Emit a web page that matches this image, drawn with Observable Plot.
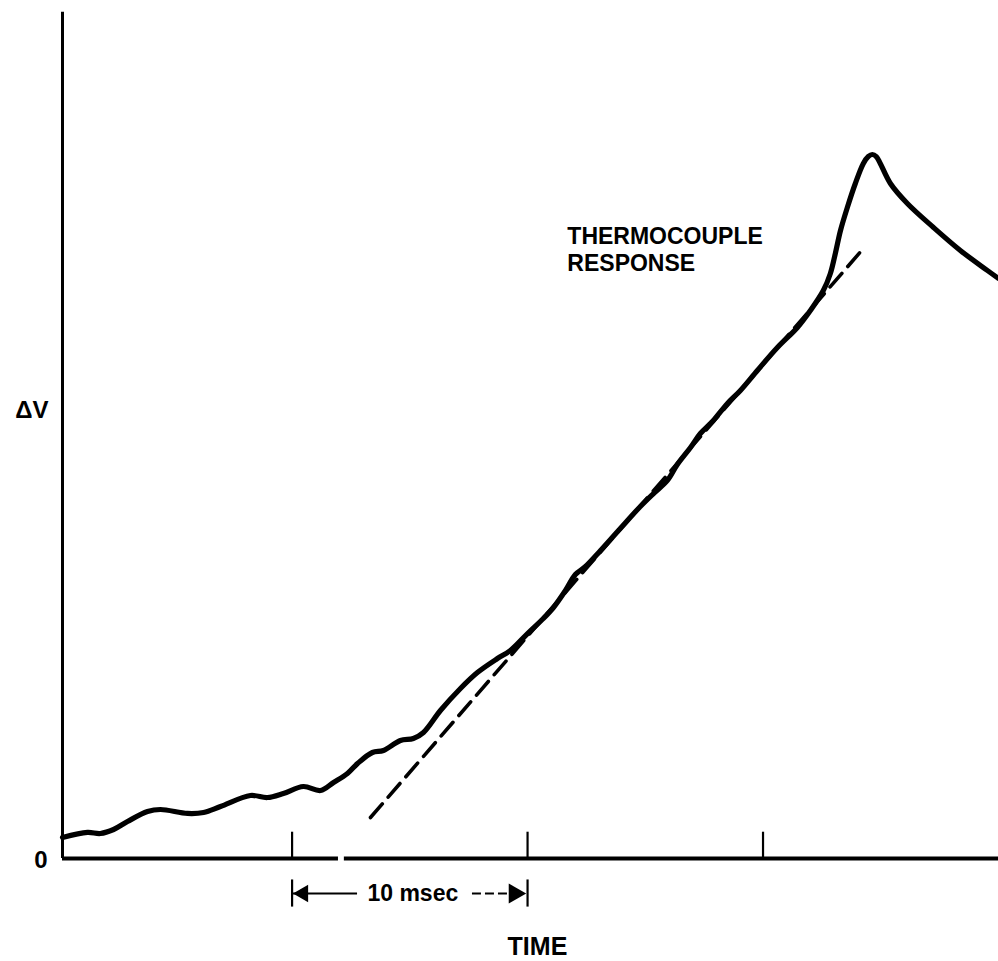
<!DOCTYPE html>
<html>
<head>
<meta charset="utf-8">
<script src="https://cdn.jsdelivr.net/npm/d3@7"></script>
<script src="https://cdn.jsdelivr.net/npm/@observablehq/plot@0.6"></script>
<style>
  html, body { margin: 0; padding: 0; background: #fff; }
  #chart svg { display: block; overflow: visible; }
</style>
</head>
<body>
<div id="chart"></div>
<script>
// Time (msec, arbitrary origin) and ΔV (arbitrary units, 0–100)
const curveTime = [0.25, 1.31, 1.86, 2.42, 3.01, 3.86, 4.41, 5.56, 6.24, 6.96, 8.23, 8.95, 9.63, 10.48, 11.21, 11.76, 12.35, 12.78, 13.41, 13.88, 14.60, 15.15, 15.58, 16.30, 17.15, 17.87, 18.72, 19.27, 20.00, 20.67, 21.10, 21.61, 22.03, 22.46, 23.10, 23.94, 24.79, 25.35, 25.94, 26.36, 26.92, 27.34, 27.89, 28.49, 29.04, 29.76, 30.61, 31.46, 32.01, 32.56, 32.86, 33.07, 33.29, 33.58, 33.92, 34.26, 34.47, 34.64, 34.81, 34.98, 35.41, 36.13, 37.24, 38.38, 39.53, 40.00];
const curveDV   = [2.48, 3.07, 2.95, 3.42, 4.36, 5.54, 5.78, 5.31, 5.42, 6.13, 7.43, 7.19, 7.67, 8.49, 8.02, 8.96, 10.02, 11.20, 12.50, 12.74, 13.92, 14.15, 14.86, 17.45, 20.05, 21.93, 23.58, 24.53, 26.53, 28.30, 29.60, 31.60, 33.49, 34.43, 36.32, 38.92, 41.51, 43.04, 44.58, 46.46, 48.47, 50.12, 51.65, 53.66, 55.19, 57.55, 60.26, 62.62, 64.62, 66.98, 68.99, 71.34, 74.06, 76.77, 79.60, 81.96, 82.78, 83.02, 82.78, 81.96, 79.60, 77.24, 74.41, 71.70, 69.34, 68.40];

// dashed straight-line fit
const fitTime = [13.33, 34.26];
const fitDV   = [4.83, 71.93];

// time ticks
const tickTimes = [10, 20, 30];

// axis extents (with the small break in the printed time axis)
const xAxisStart = [0.25, 12.22];
const xAxisEnd   = [11.97, 40.0];
const yAxisTop   = 99.8;

// annotation text
const curveLabelLines = ["THERMOCOUPLE", "RESPONSE"];
const curveLabelAt = [21.69, 74.4, 71.2];
const yLabel = "ΔV";
const yLabelAt = 52.9;
const zeroLabel = "0";
const intervalLabel = "10 msec";
const intervalFrom = 10, intervalTo = 20;
const intervalAt = -4.13;
const intervalTextAt = 13.2;
const intervalSolidEnd = 12.78;
const intervalDashStart = 17.66;
const xLabel = "TIME";
const xLabelAt = [20.42, -10.38];

const curve = curveTime.map((t, i) => ({t, v: curveDV[i]}));
const fit = fitTime.map((t, i) => ({t, v: fitDV[i]}));
const axisSegs = xAxisStart.map((s, i) => ({x1: s, x2: xAxisEnd[i]}));

const font = "'Liberation Sans', Arial, Helvetica, sans-serif";

const chart = Plot.plot({
  width: 998,
  height: 961,
  marginLeft: 62,
  marginRight: 0,
  marginTop: 10,
  marginBottom: 103,
  x: {domain: [0.25, 40], axis: null},
  y: {domain: [0, 100], axis: null},
  style: {fontFamily: font, background: "#fff", color: "#000"},
  marks: [
    // y axis
    Plot.ruleX([xAxisStart[0]], {y1: 0, y2: yAxisTop, stroke: "#000", strokeWidth: 3}),
    // x axis
    Plot.ruleY(axisSegs, {y: 0, x1: "x1", x2: "x2", stroke: "#000", strokeWidth: 4}),
    // ticks
    Plot.ruleX(tickTimes, {y1: 0, y2: 3.1, stroke: "#000", strokeWidth: 2.2}),
    // dashed fit
    Plot.line(fit, {x: "t", y: "v", stroke: "#000", strokeWidth: 3.6, strokeDasharray: "18,9", strokeLinecap: "round"}),
    // response curve
    Plot.line(curve, {x: "t", y: "v", curve: "catmull-rom", stroke: "#000", strokeWidth: 5.2, strokeLinejoin: "round", strokeLinecap: "round"}),
    // labels
    Plot.text([zeroLabel], {x: xAxisStart[0], y: 0, dx: -15, dy: 2, textAnchor: "end", lineAnchor: "middle", fontSize: 24, fontWeight: "bold"}),
    Plot.text([yLabel], {x: xAxisStart[0], y: yLabelAt, dx: -14, textAnchor: "end", lineAnchor: "middle", fontSize: 24, fontWeight: "bold", letterSpacing: "1px"}),
    Plot.text([curveLabelLines[0]], {x: curveLabelAt[0], y: curveLabelAt[1], textAnchor: "start", lineAnchor: "top", fontSize: 23, fontWeight: "bold", letterSpacing: "0.5px"}),
    Plot.text([curveLabelLines[1]], {x: curveLabelAt[0], y: curveLabelAt[2], textAnchor: "start", lineAnchor: "top", fontSize: 23, fontWeight: "bold"}),
    Plot.text([xLabel], {x: xLabelAt[0], y: xLabelAt[1], textAnchor: "middle", lineAnchor: "middle", fontSize: 25, fontWeight: "bold"}),
    // 10 msec interval marker
    Plot.ruleX([intervalFrom, intervalTo], {y1: intervalAt + 1.6, y2: intervalAt - 1.6, stroke: "#000", strokeWidth: 2.2}),
    Plot.ruleY([intervalAt], {x1: intervalFrom, x2: intervalSolidEnd, stroke: "#000", strokeWidth: 2.2}),
    Plot.ruleY([intervalAt], {x1: intervalDashStart, x2: intervalTo - 0.8, stroke: "#000", strokeWidth: 2.2, strokeDasharray: "9,4"}),
    Plot.dot([intervalFrom], {x: d => d, y: intervalAt, dx: 11, symbol: "triangle", r: 6.5, rotate: -90, fill: "#000", stroke: null}),
    Plot.dot([intervalTo], {x: d => d, y: intervalAt, dx: -13, symbol: "triangle", r: 7.5, rotate: 90, fill: "#000", stroke: null}),
    Plot.text([intervalLabel], {x: intervalTextAt, y: intervalAt, textAnchor: "start", lineAnchor: "middle", fontSize: 23, fontWeight: "bold"})
  ]
});
document.getElementById("chart").appendChild(chart);
</script>
</body>
</html>
